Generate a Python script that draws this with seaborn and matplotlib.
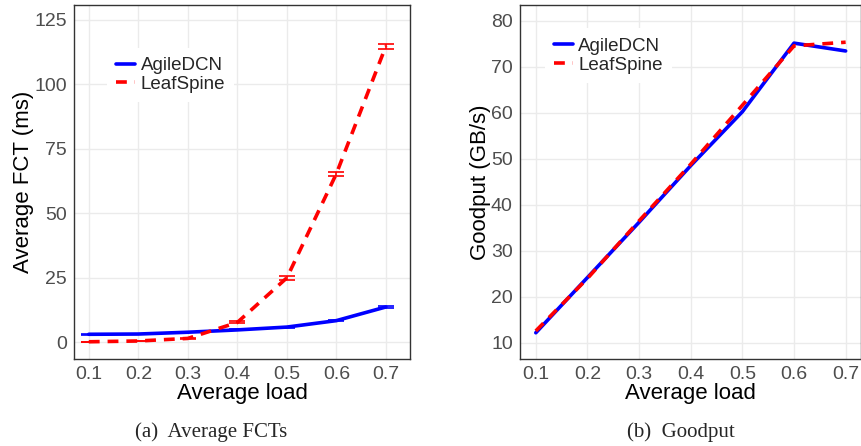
import matplotlib
matplotlib.use('Agg')
import matplotlib.pyplot as plt
import seaborn as sns
import pandas as pd

loads = [0.1, 0.2, 0.3, 0.4, 0.5, 0.6, 0.7]
fct_agile = [3.0, 3.1, 3.8, 4.7, 5.8, 8.3, 13.6]
fct_agile_err = [0.1, 0.1, 0.1, 0.2, 0.2, 0.3, 0.3]
fct_leaf = [0.1, 0.4, 1.4, 7.6, 24.9, 65.3, 114.8]
fct_leaf_err = [0.1, 0.1, 0.2, 0.4, 0.8, 0.8, 1.0]
goodput_agile = [12.2, 24.2, 36.2, 48.5, 60.2, 75.1, 73.4]
goodput_leaf = [12.6, 24.0, 36.5, 48.8, 61.6, 74.5, 75.3]
series = ['AgileDCN', 'LeafSpine']
colors = {'AgileDCN': '#0000ff', 'LeafSpine': '#ff0000'}


def long_df(a, b):
	return pd.DataFrame({
		'load': loads + loads,
		'value': a + b,
		'scheme': [series[0]] * len(loads) + [series[1]] * len(loads),
	})


def style_axes(ax):
	ax.set_facecolor('white')
	for s in ax.spines.values():
		s.set_color('#333333')
		s.set_linewidth(1.0)
	ax.grid(True, color='#ebebeb', linewidth=1.0)
	ax.tick_params(axis='both', colors='#333333', labelcolor='#4d4d4d',
		labelsize=14, length=3, width=0.8, direction='out', pad=2)
	ax.set_xticks(loads)
	ax.set_xticklabels([str(x) for x in loads])


def draw(ax, df, errs=None):
	sns.lineplot(data=df, x='load', y='value', hue='scheme', style='scheme',
		palette=colors, dashes={'AgileDCN': '', 'LeafSpine': (3, 2.2)},
		linewidth=2.6, ax=ax, errorbar=None)
	if errs is not None:
		for name, vals, e in errs:
			ax.errorbar(loads, vals, yerr=e, fmt='none', ecolor=colors[name],
				elinewidth=1.2, capsize=6, capthick=1.2)
	leg = ax.legend(loc='upper left', frameon=True, fontsize=13.5,
		handlelength=1.0, handletextpad=0.3, labelspacing=0.08,
		borderpad=0.5)
	leg.get_frame().set_facecolor('white')
	leg.get_frame().set_edgecolor('none')
	leg.get_frame().set_alpha(1)
	return leg


def main():
	sns.set_theme(style='whitegrid')
	plt.rcParams['font.family'] = ['Liberation Sans', 'DejaVu Sans']

	fig = plt.figure(figsize=(8.62, 4.46), dpi=100)
	ax1 = fig.add_axes([0.0858, 0.195, 0.39, 0.794])
	ax2 = fig.add_axes([0.603, 0.195, 0.396, 0.794])

	draw(ax1, long_df(fct_agile, fct_leaf),
		errs=[('AgileDCN', fct_agile, fct_agile_err), ('LeafSpine', fct_leaf, fct_leaf_err)])
	style_axes(ax1)
	ax1.set_xlim(0.07, 0.749)
	ax1.set_ylim(-6.6, 130.8)
	ax1.set_yticks([0, 25, 50, 75, 100, 125])
	ax1.legend_.set_bbox_to_anchor((0.07, 0.905))
	ax1.set_xlabel('Average load', fontsize=16, color='black', labelpad=0)
	ax1.set_ylabel('Average FCT (ms)', fontsize=16, color='black', labelpad=0)

	draw(ax2, long_df(goodput_agile, goodput_leaf))
	style_axes(ax2)
	ax2.set_xlim(0.069, 0.73)
	ax2.set_ylim(6.5, 83.4)
	ax2.set_yticks([10, 20, 30, 40, 50, 60, 70, 80])
	ax2.legend_.set_bbox_to_anchor((0.045, 0.96))
	ax2.set_xlabel('Average load', fontsize=16, color='black', labelpad=0)
	ax2.set_ylabel('Goodput (GB/s)', fontsize=16, color='black', labelpad=0)

	fig.text(0.245, 0.02, '(a)  Average FCTs', ha='center', fontsize=15,
		family='Liberation Serif')
	fig.text(0.79, 0.02, '(b)  Goodput', ha='center', fontsize=15,
		family='Liberation Serif')

	fig.savefig('out.png', dpi=100)


if __name__ == '__main__':
	main()
